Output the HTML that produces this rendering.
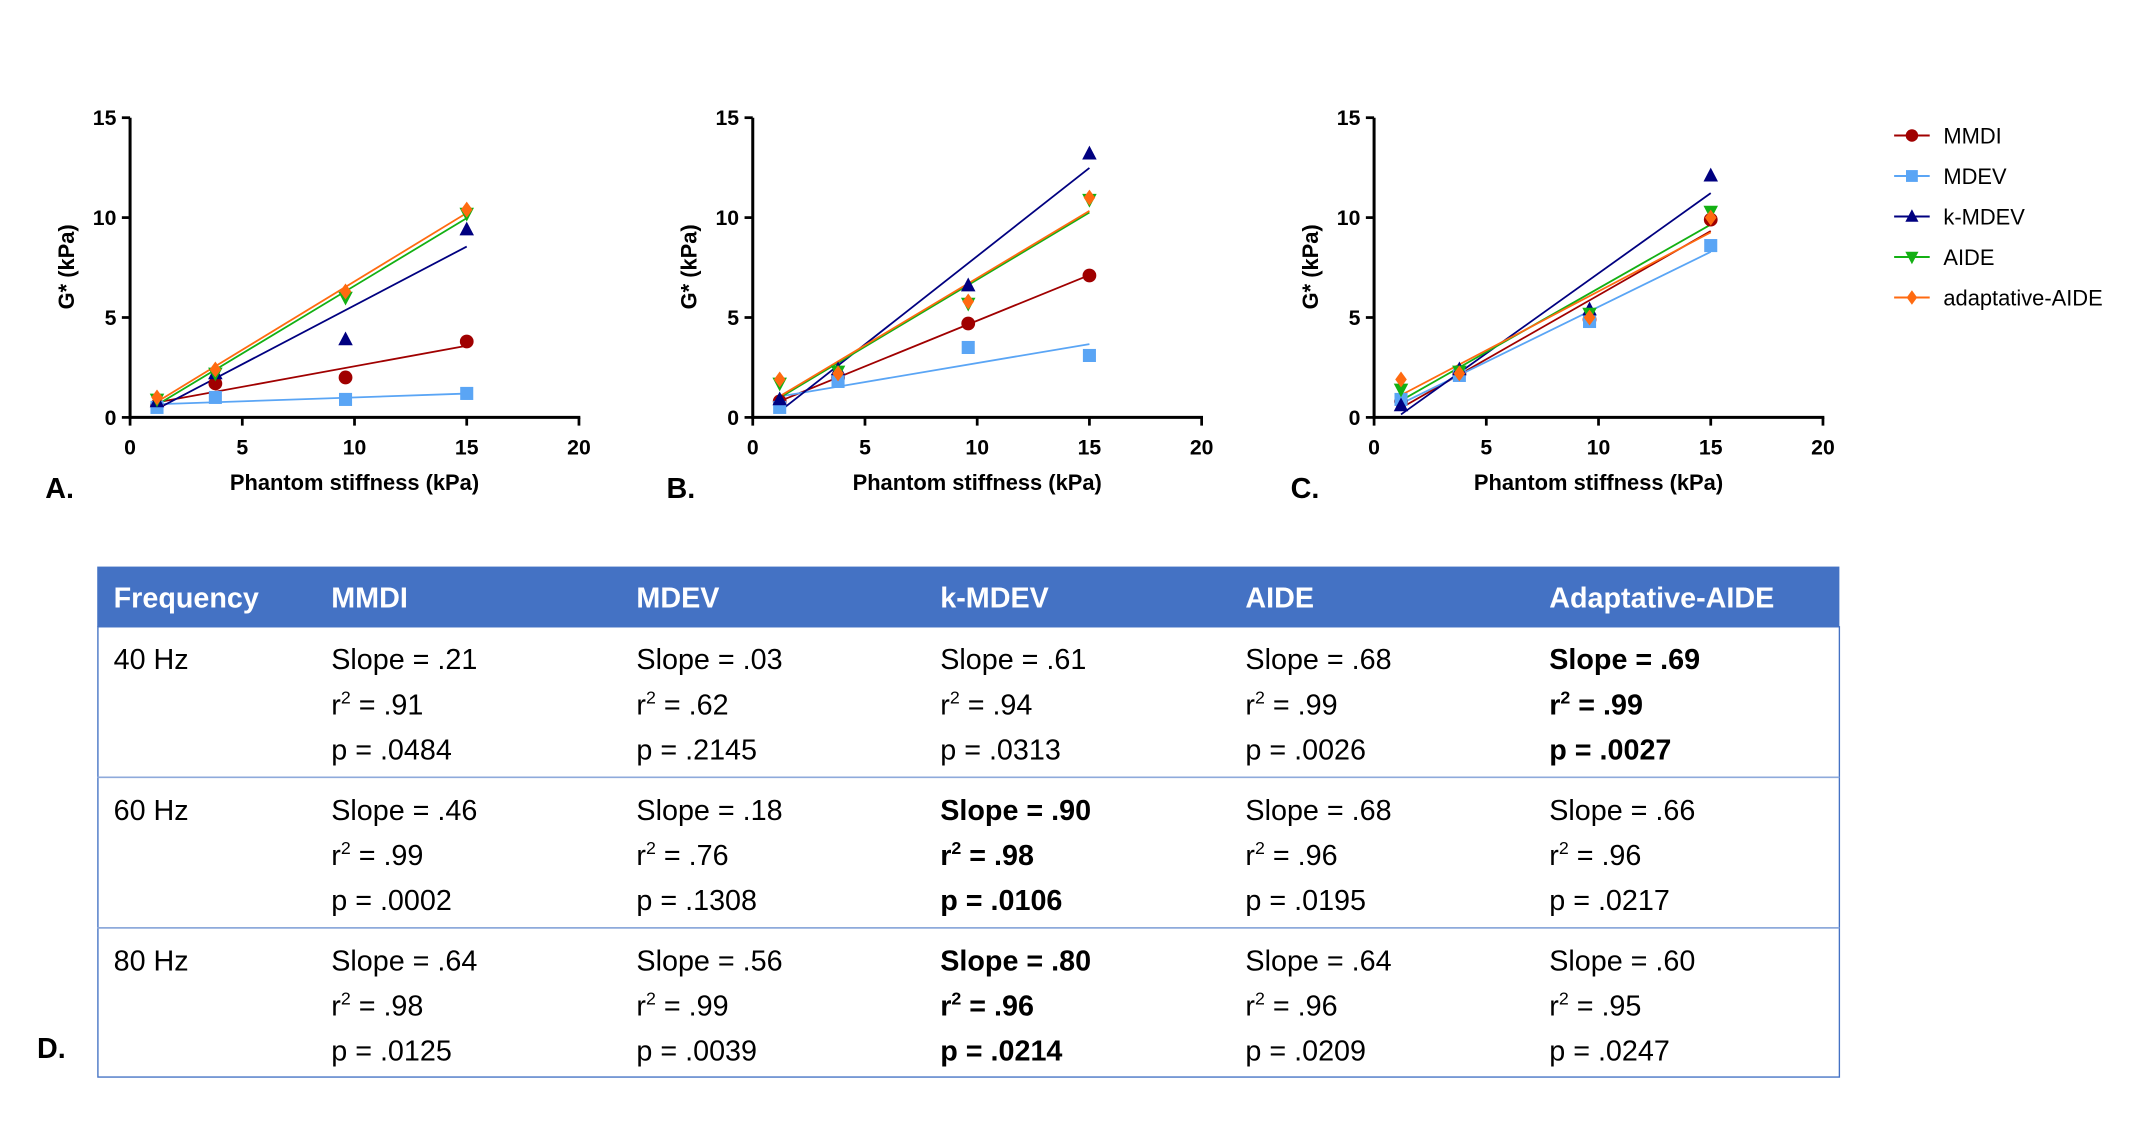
<!DOCTYPE html>
<html><head><meta charset="utf-8"><style>
html,body{margin:0;padding:0;background:#fff;}
svg{display:block;}
text{font-family:"Liberation Sans",sans-serif;}
</style></head><body>
<svg id="fig" width="2146" height="1127" viewBox="0 0 1568 823.5" xmlns="http://www.w3.org/2000/svg"></svg>
<script>
const xVals = [1.2, 3.8, 9.6, 15];
const seriesNames = ["MMDI","MDEV","k-MDEV","AIDE","adaptative-AIDE"];
const seriesColors = ["#a00000","#5aa5f5","#000080","#13b013","#ff6a10"];
const seriesMarkers = ["circle","square","triangle","invtriangle","diamond"];
const panelA_MMDI = [0.6,1.7,2.0,3.8];
const panelA_MDEV = [0.5,1.0,0.9,1.2];
const panelA_kMDEV = [0.8,2.2,3.9,9.4];
const panelA_AIDE = [0.9,2.2,6.0,10.2];
const panelA_adAIDE = [1.0,2.4,6.3,10.4];
const panelB_MMDI = [0.8,2.0,4.7,7.1];
const panelB_MDEV = [0.5,1.8,3.5,3.1];
const panelB_kMDEV = [0.9,2.4,6.6,13.2];
const panelB_AIDE = [1.7,2.3,5.7,10.9];
const panelB_adAIDE = [1.9,2.2,5.8,11.0];
const panelC_MMDI = [0.8,2.2,4.9,9.9];
const panelC_MDEV = [0.9,2.1,4.8,8.6];
const panelC_kMDEV = [0.6,2.4,5.4,12.1];
const panelC_AIDE = [1.4,2.3,5.2,10.3];
const panelC_adAIDE = [1.9,2.2,5.0,10.0];
const xTicks = [0,5,10,15,20];
const yTicks = [0,5,10,15];
const panelLabels = ["A.","B.","C."];

const NS="http://www.w3.org/2000/svg";
const svg=document.getElementById('fig');
function el(tag,attrs,parent,text){const e=document.createElementNS(NS,tag);for(const k in attrs)e.setAttribute(k,attrs[k]);if(text!==undefined)e.textContent=text;(parent||svg).appendChild(e);return e;}

function marker(g,type,cx,cy,color,s){
  let m;
  if(type==="circle") m=el('circle',{cx:cx,cy:cy,r:s*0.95,fill:color},g);
  else if(type==="square") m=el('rect',{x:cx-s*0.9,y:cy-s*0.9,width:s*1.8,height:s*1.8,fill:color},g);
  else if(type==="triangle") m=el('polygon',{points:`${cx},${cy-s*1.1} ${cx-s},${cy+s*0.8} ${cx+s},${cy+s*0.8}`,fill:color},g);
  else if(type==="invtriangle") m=el('polygon',{points:`${cx},${cy+s*1.1} ${cx-s},${cy-s*0.8} ${cx+s},${cy-s*0.8}`,fill:color},g);
  else m=el('polygon',{points:`${cx},${cy-s*1.1} ${cx+s*0.8},${cy} ${cx},${cy+s*1.1} ${cx-s*0.8},${cy}`,fill:color},g);
  return m;
}
function fit(xs,ys){const n=xs.length;let mx=0,my=0;for(let i=0;i<n;i++){mx+=xs[i];my+=ys[i];}mx/=n;my/=n;let sxy=0,sxx=0;for(let i=0;i<n;i++){sxy+=(xs[i]-mx)*(ys[i]-my);sxx+=(xs[i]-mx)**2;}const b=sxy/sxx;return [b,my-b*mx];}

const panels=[
 {x0:95,label:"A.",lx:33,data:[panelA_MMDI,panelA_MDEV,panelA_kMDEV,panelA_AIDE,panelA_adAIDE]},
 {x0:550,label:"B.",lx:487,data:[panelB_MMDI,panelB_MDEV,panelB_kMDEV,panelB_AIDE,panelB_adAIDE]},
 {x0:1004,label:"C.",lx:943,data:[panelC_MMDI,panelC_MDEV,panelC_kMDEV,panelC_AIDE,panelC_adAIDE]}
];
panels.forEach((p,pi)=>{
  const g=el('g',{});
  
  
  const y0=305, yTop=86, W=328;
  const sx=v=>p.x0+v/20*W, sy=v=>y0-v/15*(y0-yTop);
  p.data.forEach((ys,si)=>{
    const sg=el('g',{},g);
    
    
    const [b,a]=fit(xVals,ys);
    const x1=xVals[0],x2=xVals[xVals.length-1];
    const ln=el('line',{x1:sx(x1),y1:sy(a+b*x1),x2:sx(x2),y2:sy(a+b*x2),stroke:seriesColors[si],'stroke-width':1.3},sg);
    
    
  });
  p.data.forEach((ys,si)=>{
    ys.forEach((v,i)=>{
      const m=marker(g,seriesMarkers[si],sx(xVals[i]),sy(v),seriesColors[si],5.3);
      
      
    });
  });
  el('line',{x1:p.x0,y1:yTop,x2:p.x0,y2:y0+1,stroke:'#000','stroke-width':2.2},g);
  el('line',{x1:p.x0-1,y1:y0,x2:p.x0+W+1,y2:y0,stroke:'#000','stroke-width':2.2},g);
  yTicks.forEach(t=>{
    el('line',{x1:p.x0-6,y1:sy(t),x2:p.x0,y2:sy(t),stroke:'#000','stroke-width':2},g);
    const tx=el('text',{x:p.x0-10,y:sy(t)+5.5,'text-anchor':'end','font-size':15.5,'font-weight':'bold'},g,t);
    
    
  });
  xTicks.forEach(t=>{
    el('line',{x1:sx(t),y1:y0,x2:sx(t),y2:y0+6,stroke:'#000','stroke-width':2},g);
    const tx=el('text',{x:sx(t),y:y0+27,'text-anchor':'middle','font-size':15.5,'font-weight':'bold'},g,t);
    
    
  });
  const xt=el('text',{x:p.x0+164,y:358,'text-anchor':'middle','font-size':16,'font-weight':'bold'},g,'Phantom stiffness (kPa)');
  
  
  const yt=el('text',{x:0,y:0,'text-anchor':'middle','font-size':16,'font-weight':'bold',transform:`translate(${p.x0-41},195) rotate(-90)`},g,'G* (kPa)');
  
  
  const pl=el('text',{x:p.lx,y:364,'font-size':21,'font-weight':'bold'},g,p.label);
  
  
});
const lg=el('g',{});


seriesNames.forEach((n,i)=>{
  const y=99+i*29.6;
  const e=el('g',{},lg);
  
  
  el('line',{x1:1384,y1:y,x2:1410,y2:y,stroke:seriesColors[i],'stroke-width':1.5},e);
  marker(e,seriesMarkers[i],1397,y,seriesColors[i],4.8);
  el('text',{x:1420,y:y+6,'font-size':16},e,n);
});

const tg=el('g',{});


const colX=[83,242,465,687,910,1132];
const headers=["Frequency","MMDI","MDEV","k-MDEV","AIDE","Adaptative-AIDE"];
el('rect',{x:71,y:414,width:1273,height:44,fill:'#4472c4'},tg);
headers.forEach((h,i)=>{el('text',{x:colX[i],y:444,'font-size':21,'font-weight':'bold',fill:'#fff'},tg,h);});
el('rect',{x:71.5,y:458,width:1272.5,height:329,fill:'none',stroke:'#4472c4','stroke-width':1},tg);
el('line',{x1:71,y1:568,x2:1344,y2:568,stroke:'#8eaadb','stroke-width':1.2},tg);
el('line',{x1:71,y1:678,x2:1344,y2:678,stroke:'#8eaadb','stroke-width':1.2},tg);
const rows=[
 ["40 Hz",[".21",".91",".0484"],[".03",".62",".2145"],[".61",".94",".0313"],[".68",".99",".0026"],[".69",".99",".0027"]],
 ["60 Hz",[".46",".99",".0002"],[".18",".76",".1308"],[".90",".98",".0106"],[".68",".96",".0195"],[".66",".96",".0217"]],
 ["80 Hz",[".64",".98",".0125"],[".56",".99",".0039"],[".80",".96",".0214"],[".64",".96",".0209"],[".60",".95",".0247"]]
];
const boldCells={"0-5":1,"1-3":1,"2-3":1};
rows.forEach((r,ri)=>{
  const by=489+ri*110;
  el('text',{x:colX[0],y:by,'font-size':21},tg,r[0]);
  for(let c=1;c<6;c++){
    const w=boldCells[ri+'-'+c]?'bold':'normal';
    const cell=el('g',{},tg);
    
    
    el('text',{x:colX[c],y:by,'font-size':21,'font-weight':w},cell,'Slope = '+r[c][0]);
    const t2=el('text',{x:colX[c],y:by+33,'font-size':21,'font-weight':w},cell);
    el('tspan',{},t2,'r');
    el('tspan',{'font-size':13,dy:-8},t2,'2');
    el('tspan',{dy:8},t2,' = '+r[c][1]);
    el('text',{x:colX[c],y:by+66,'font-size':21,'font-weight':w},cell,'p = '+r[c][2]);
  }
});
const dl=el('text',{x:27,y:773,'font-size':21,'font-weight':'bold'},svg,'D.');


</script>
</body></html>
